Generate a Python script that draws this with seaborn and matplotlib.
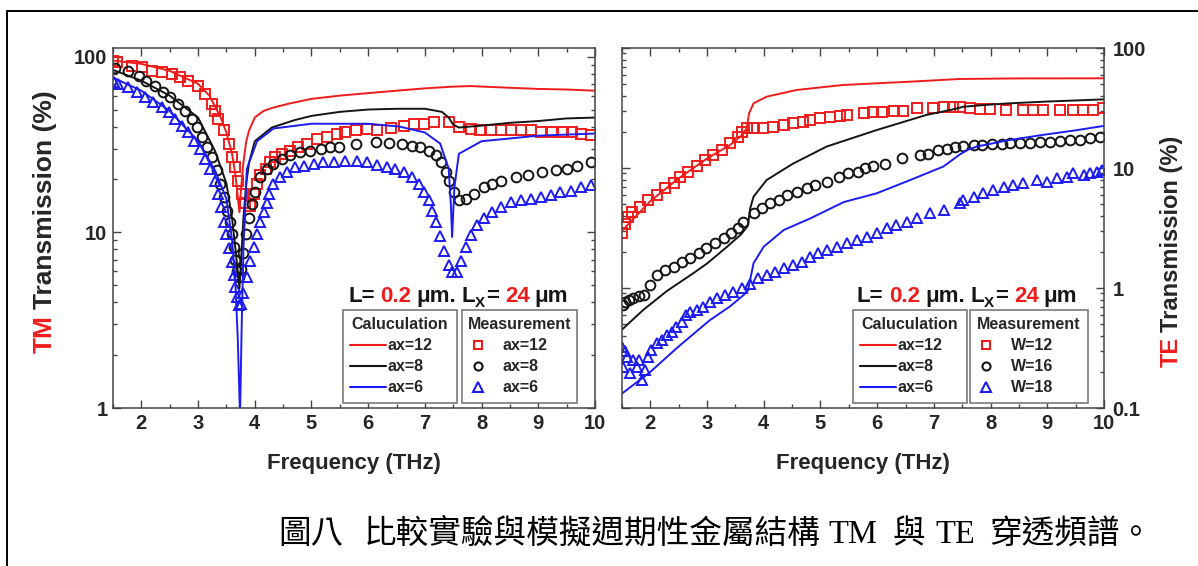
import matplotlib
matplotlib.use("Agg")
import matplotlib.pyplot as plt
import seaborn as sns
import numpy as np
from matplotlib.lines import Line2D
from matplotlib.ticker import MultipleLocator, LogLocator, NullFormatter

W, H = 1198, 566

# ---------------- data : TM (left panel) ----------------
tm_calc12_f = [1.5, 2.0, 2.5, 3.0, 3.2, 3.4, 3.5, 3.6, 3.66, 3.7, 3.73, 3.76, 3.8, 3.85, 3.9,
               4.0, 4.15, 4.3, 4.6, 5.0, 5.5, 6.0, 6.5, 7.0, 7.5, 7.8, 8.5, 9.0, 9.5, 10.0]
tm_calc12 = [95, 91, 83, 70, 60, 45, 37, 28, 21, 16, 13, 18, 25, 33, 38,
             45, 49, 51, 54, 57.5, 60, 62, 64, 66, 67.5, 68, 66.5, 65.5, 65, 64]

tm_calc8_f = [1.5, 2.0, 2.5, 3.0, 3.3, 3.5, 3.6, 3.66, 3.7, 3.73, 3.76, 3.8, 3.85, 3.9, 4.0,
              4.3, 4.7, 5.0, 5.5, 6.0, 6.5, 7.0, 7.3, 7.42, 7.5, 7.6, 8.0, 8.5, 9.0, 9.5, 10.0]
tm_calc8 = [84, 73, 60, 45, 29, 19, 12, 8, 6, 4.8, 7, 12, 19, 25, 33,
            39.5, 43.5, 46, 48.5, 50, 50.5, 50.5, 48.5, 45, 41, 39.5, 40.5, 42, 43, 44.5, 45]

tm_calc6_f = [1.5, 2.0, 2.5, 3.0, 3.3, 3.5, 3.6, 3.66, 3.7, 3.74, 3.77, 3.8, 3.86, 4.04, 4.33,
              5.0, 6.0, 6.55, 7.0, 7.27, 7.42, 7.46, 7.48, 7.52, 7.6, 8.0, 9.0, 10.0]
tm_calc6 = [76, 64, 49, 33, 22.5, 15.5, 9, 5, 2.5, 0.9, 3, 8, 23, 33, 39,
            41.5, 41.5, 40, 37, 32, 23, 14, 9.4, 18, 28, 33, 35.5, 36.5]

tm_meas12_f = [1.50, 1.57, 1.83, 2.01, 2.18, 2.36, 2.54, 2.68, 2.83, 3.00, 3.12, 3.24, 3.30, 3.36,
               3.45, 3.54, 3.60, 3.66, 3.71, 3.77, 3.83, 3.92, 3.98, 4.04, 4.10, 4.19, 4.27, 4.36,
               4.48, 4.63, 4.77, 4.92, 5.10, 5.27, 5.45, 5.60, 5.78, 5.98, 6.16, 6.40, 6.63, 6.81,
               6.98, 7.16, 7.43, 7.60, 7.81, 7.98, 8.16, 8.34, 8.51, 8.69, 8.87, 9.04, 9.25, 9.43,
               9.60, 9.75, 9.93]
tm_meas12 = [94, 92.8, 88.9, 86.9, 83.3, 81.4, 79.7, 76.3, 73.1, 68.4, 61.4, 53.8, 49.3, 44.3,
             38.0, 31.9, 26.8, 23.5, 19.7, 16.6, 14.6, 14.2, 16.6, 18.9, 21.1, 23.0, 25.1, 26.8,
             28.0, 29.2, 30.5, 31.9, 34.1, 34.8, 36.4, 37.2, 38.0, 38.8, 38.0, 39.3, 40.5, 41.4,
             41.4, 42.4, 42.4, 39.7, 38.8, 38.0, 38.0, 38.3, 38.0, 38.0, 38.0, 37.2, 37.2, 37.2,
             37.2, 36.4, 35.6]

tm_meas8_f = [1.53, 1.77, 1.95, 2.09, 2.24, 2.39, 2.51, 2.65, 2.77, 2.89, 2.98, 3.07, 3.16, 3.24,
              3.33, 3.39, 3.45, 3.51, 3.56, 3.60, 3.63, 3.66, 3.69, 3.72, 3.76, 3.80, 3.85, 3.90,
              3.95, 4.00, 4.09, 4.21, 4.33, 4.48, 4.63, 4.80, 4.98, 5.16, 5.33, 5.48, 5.78, 6.13,
              6.37, 6.60, 6.78, 6.92, 7.07, 7.19, 7.28, 7.37, 7.43, 7.51, 7.60, 7.72, 7.87, 8.04,
              8.19, 8.34, 8.60, 8.81, 9.07, 9.31, 9.51, 9.69, 9.93]
tm_meas8 = [86, 83.3, 78, 73.1, 68.4, 62.7, 58.7, 53.8, 49.3, 44.3, 39.7, 34.8, 30.5, 26.8,
            22.5, 18.9, 15.9, 13.3, 11.5, 9.8, 8.3, 7.0, 6.0, 5.6, 6.2, 7.6, 9.8, 12.0,
            14.5, 17.0, 20.6, 23.0, 24.6, 26.2, 27.4, 28.6, 29.2, 29.9, 30.5, 30.5, 31.9, 32.6,
            32.2, 31.9, 31.2, 30.5, 29.2, 27.4, 25.1, 22.0, 19.7, 16.9, 15.3, 15.5, 16.6, 18.1,
            18.9, 19.7, 20.6, 21.1, 22.0, 22.5, 23.0, 24.0, 25.1]

tm_meas6_f = [1.52, 1.59, 1.77, 1.92, 2.07, 2.21, 2.36, 2.48, 2.59, 2.71, 2.83, 2.92, 3.04, 3.13,
              3.21, 3.30, 3.36, 3.40, 3.45, 3.50, 3.55, 3.59, 3.63, 3.66, 3.69, 3.72, 3.76, 3.80,
              3.86, 3.92, 3.98, 4.04, 4.10, 4.16, 4.21, 4.25, 4.33, 4.45, 4.57, 4.71, 4.86, 5.04,
              5.21, 5.39, 5.60, 5.80, 5.98, 6.16, 6.33, 6.48, 6.63, 6.78, 6.89, 6.98, 7.07, 7.13,
              7.20, 7.27, 7.34, 7.42, 7.48, 7.57, 7.63, 7.72, 7.81, 7.92, 8.04, 8.19, 8.34, 8.51,
              8.69, 8.87, 9.04, 9.22, 9.39, 9.57, 9.75, 9.93]
tm_meas6 = [72, 70, 66.9, 62.7, 58.7, 55, 51.5, 48.3, 44.3, 40.5, 37.2, 33.3, 29.9, 26.2,
            23, 19.7, 16.6, 13.9, 11.5, 9.8, 8.1, 6.8, 5.7, 4.9, 4.3, 3.85, 3.9, 4.5,
            5.6, 6.9, 8.3, 9.8, 11.5, 13.1, 14.6, 16.6, 18.9, 20.6, 22, 23.5, 24, 24.6,
            25.1, 25.1, 25.4, 25.4, 25.1, 24.3, 23.5, 23, 22, 20.6, 18.9, 16.9, 15.2, 13.3,
            11.5, 9.5, 7.8, 6.5, 5.95, 5.95, 6.9, 8.3, 9.6, 11, 12, 13.1, 13.9, 14.9,
            15.2, 15.5, 15.9, 16.4, 16.9, 17.3, 18.1, 18.5]

# ---------------- data : TE (right panel) ----------------
te_calc12_f = [1.5, 2.0, 2.5, 3.0, 3.4, 3.6, 3.70, 3.74, 3.82, 4.05, 4.58, 5.40, 6.58, 7.46, 8.5, 9.99]
te_calc12 = [3.0, 5.3, 8.2, 12.0, 15.5, 18.5, 21.5, 28.5, 34.6, 39.3, 44.7, 49.2, 52.4, 55.2, 55.8, 55.9]

te_calc8_f = [1.5, 1.88, 2.3, 2.76, 3.0, 3.35, 3.6, 3.72, 3.76, 3.82, 4.05, 4.52, 5.11, 5.99,
              6.87, 7.3, 7.52, 8.0, 8.34, 9.0, 9.99]
te_calc8 = [0.45, 0.66, 0.95, 1.33, 1.6, 2.2, 2.8, 3.3, 4.6, 5.77, 7.94, 10.9, 15.1, 20.7,
            27.7, 30.5, 32.4, 33.8, 34.6, 35.8, 37.3]

te_calc6_f = [1.5, 2.0, 2.48, 3.05, 3.4, 3.64, 3.72, 3.76, 3.82, 4.0, 4.35, 4.82, 5.41, 5.99,
              6.6, 7.17, 7.46, 7.6, 7.76, 8.3, 8.93, 9.5, 9.99]
te_calc6 = [0.132, 0.2, 0.32, 0.54, 0.7, 0.87, 0.95, 1.17, 1.61, 2.21, 3.04, 3.8, 5.2, 6.15,
            8.0, 10.3, 13.0, 14.2, 15.1, 17, 18.9, 20.6, 22.4]

te_meas12_f = [1.50, 1.55, 1.60, 1.67, 1.82, 1.96, 2.11, 2.26, 2.41, 2.52, 2.67, 2.82, 2.96, 3.11,
               3.26, 3.40, 3.55, 3.61, 3.70, 3.82, 3.99, 4.17, 4.35, 4.52, 4.70, 4.82, 5.00, 5.17,
               5.35, 5.46, 5.76, 5.93, 6.08, 6.29, 6.46, 6.70, 6.99, 7.17, 7.34, 7.46, 7.64, 7.81,
               7.99, 8.28, 8.58, 8.75, 8.93, 9.22, 9.46, 9.63, 9.81, 9.99]
te_meas12 = [2.9, 3.4, 3.9, 4.33, 4.76, 5.41, 5.96, 6.77, 7.45, 8.47, 9.31, 10.3, 11.7, 12.8,
             14.1, 16.1, 18.2, 20.1, 21.4, 21.4, 21.4, 21.8, 22.8, 23.6, 24.3, 25.1, 25.9, 26.8,
             27.1, 27.7, 28.9, 29.5, 29.5, 30.1, 30.1, 31.4, 31.4, 32.0, 32.4, 32.4, 31.4, 30.8,
             30.8, 30.4, 30.4, 30.4, 30.4, 30.4, 30.4, 30.4, 30.4, 31.4]

te_meas16_f = [1.52, 1.55, 1.62, 1.70, 1.80, 1.88, 2.00, 2.11, 2.26, 2.41, 2.55, 2.70, 2.85, 2.99,
               3.14, 3.29, 3.43, 3.55, 3.64, 3.82, 3.97, 4.11, 4.26, 4.41, 4.58, 4.76, 4.90, 5.11,
               5.32, 5.49, 5.67, 5.79, 5.93, 6.14, 6.43, 6.76, 6.90, 7.08, 7.23, 7.37, 7.52, 7.70,
               7.84, 8.02, 8.20, 8.35, 8.52, 8.70, 8.88, 9.05, 9.23, 9.40, 9.58, 9.76, 9.93]
te_meas16 = [0.72, 0.77, 0.80, 0.82, 0.85, 0.87, 1.05, 1.28, 1.41, 1.51, 1.66, 1.77, 1.95, 2.14,
             2.36, 2.59, 2.86, 3.14, 3.57, 4.19, 4.6, 5.08, 5.41, 5.96, 6.35, 6.77, 7.2, 7.67,
             8.47, 9.04, 9.31, 9.94, 10.3, 10.7, 12.1, 12.8, 13.2, 14.1, 14.5, 15.1, 15.3, 15.6,
             15.6, 15.9, 15.9, 16.1, 16.1, 16.2, 16.5, 16.5, 16.9, 17.1, 17.1, 17.7, 18.2]

te_meas18_f = [1.50, 1.52, 1.55, 1.58, 1.64, 1.70, 1.76, 1.80, 1.85, 1.90, 1.96, 2.02, 2.11, 2.20,
               2.29, 2.38, 2.46, 2.55, 2.62, 2.70, 2.82, 2.93, 3.05, 3.17, 3.32, 3.46, 3.61, 3.76,
               3.90, 4.05, 4.20, 4.35, 4.52, 4.67, 4.82, 4.96, 5.11, 5.29, 5.46, 5.64, 5.82, 5.99,
               6.17, 6.34, 6.52, 6.70, 6.93, 7.17, 7.46, 7.52, 7.70, 7.87, 8.05, 8.23, 8.40, 8.58,
               8.81, 8.99, 9.17, 9.34, 9.46, 9.64, 9.76, 9.88, 9.97]
te_meas18 = [0.324, 0.221, 0.30, 0.268, 0.195, 0.251, 0.221, 0.25, 0.171, 0.207, 0.268, 0.304,
             0.346, 0.368, 0.406, 0.432, 0.476, 0.524, 0.6, 0.634, 0.656, 0.699, 0.769, 0.82,
             0.874, 0.932, 0.994, 1.09, 1.2, 1.28, 1.37, 1.46, 1.55, 1.66, 1.82, 1.95, 2.07,
             2.21, 2.36, 2.51, 2.68, 2.86, 3.14, 3.35, 3.57, 3.81, 4.19, 4.47, 5.08, 5.41, 5.77,
             6.15, 6.56, 7.0, 7.2, 7.45, 7.94, 7.67, 8.2, 8.47, 9.04, 8.7, 9.04, 9.31, 9.6]

calc_labels = ["ax=12", "ax=8", "ax=6"]
tm_meas_labels = ["ax=12", "ax=8", "ax=6"]
te_meas_labels = ["W=12", "W=16", "W=18"]
x_ticks = [2, 3, 4, 5, 6, 7, 8, 9, 10]
tm_yticks = [1, 10, 100]
te_yticks = [0.1, 1, 10, 100]
caption_parts = ["圖八", "比較實驗與模擬週期性金屬結構", "TM", "與", "TE", "穿透頻譜。"]

# ---------------- style ----------------
sns.set_style("ticks")
plt.rcParams["font.family"] = ["Liberation Sans", "DejaVu Sans"]
plt.rcParams["font.weight"] = "bold"

RED = "#f01c1c"
BLACK = "#151515"
BLUE = "#1c1cf2"
TXT = "#262626"
GRID = "#444444"

fig = plt.figure(figsize=(W / 100, H / 100), dpi=100)
fig.patch.set_facecolor("white")
axL = fig.add_axes([113 / W, 1 - 408 / H, 482 / W, 360 / H])
axR = fig.add_axes([622 / W, 1 - 408 / H, 482 / W, 360 / H])


def draw_line(ax, x, y, c):
    sns.lineplot(x=x, y=y, ax=ax, color=c, linewidth=1.4, estimator=None,
                 sort=False, legend=False)


def draw_pts(ax, x, y, c, m, ms):
    sns.lineplot(x=x, y=y, ax=ax, color=c, linestyle="none", marker=m,
                 markersize=ms, markerfacecolor="none", markeredgecolor=c,
                 markeredgewidth=1.4, estimator=None, sort=False, legend=False)


for ax in (axL, axR):
    ax.set_yscale("log")

draw_pts(axL, tm_meas12_f, tm_meas12, RED, "s", 6.6)
draw_pts(axL, tm_meas8_f, tm_meas8, BLACK, "o", 7.0)
draw_pts(axL, tm_meas6_f, tm_meas6, BLUE, "^", 7.8)
draw_line(axL, tm_calc12_f, tm_calc12, RED)
draw_line(axL, tm_calc8_f, tm_calc8, BLACK)
draw_line(axL, tm_calc6_f, tm_calc6, BLUE)

draw_pts(axR, te_meas12_f, te_meas12, RED, "s", 6.6)
draw_pts(axR, te_meas16_f, te_meas16, BLACK, "o", 7.0)
draw_pts(axR, te_meas18_f, te_meas18, BLUE, "^", 7.8)
draw_line(axR, te_calc12_f, te_calc12, RED)
draw_line(axR, te_calc8_f, te_calc8, BLACK)
draw_line(axR, te_calc6_f, te_calc6, BLUE)

for ax in (axL, axR):
    ax.set_xlim(1.5, 10)
    ax.set_xticks(x_ticks, labels=[str(v) for v in x_ticks])
    ax.xaxis.set_minor_locator(MultipleLocator(0.5))
    ax.yaxis.set_minor_locator(LogLocator(base=10, subs=np.arange(2, 10)))
    ax.yaxis.set_minor_formatter(NullFormatter())
    ax.tick_params(which="both", direction="in", top=True, right=True,
                   color=GRID, labelcolor=TXT, labelsize=14.5, width=1.0)
    ax.tick_params(which="major", length=6, pad=4)
    ax.tick_params(which="minor", length=3.2)
    ax.set_xlabel("")
    ax.set_ylabel("")
    for s in ax.spines.values():
        s.set_color(GRID)
        s.set_linewidth(1.1)

axL.set_ylim(1, 112)
axL.set_yticks(tm_yticks, labels=[str(v) for v in tm_yticks])
axR.set_ylim(0.1, 100)
axR.set_yticks(te_yticks, labels=["0.1", "1", "10", "100"])
axR.tick_params(axis="y", which="both", labelleft=False, labelright=True, pad=6)
for ax in (axL, axR):
    for lab in ax.get_xticklabels() + ax.get_yticklabels():
        lab.set_fontweight("bold")


def legend_pair(ax, meas_labels, calc_box, meas_box):
    top, bottom = 310, 403
    common = dict(loc="upper left", bbox_transform=fig.transFigure, mode="expand",
                  frameon=True, fancybox=False, framealpha=1, edgecolor="#7a7a7a",
                  prop=dict(weight="bold", size=11.5),
                  title_fontproperties=dict(weight="bold", size=11.5),
                  labelcolor=TXT, borderaxespad=0, borderpad=0.45, labelspacing=0.38)
    calc_h = [Line2D([], [], color=c, lw=1.5) for c in (RED, BLACK, BLUE)]
    l1 = ax.legend(calc_h, calc_labels, title="Caluculation",
                   bbox_to_anchor=(calc_box[0] / W, 1 - bottom / H,
                                   (calc_box[1] - calc_box[0]) / W, (bottom - top) / H),
                   handlelength=2.25, handletextpad=0.1, **common)
    l1.get_title().set_color(TXT)
    l1.get_frame().set_linewidth(1.2)
    ax.add_artist(l1)
    meas_h = [Line2D([], [], ls="none", marker=m, ms=s, mfc="none", mec=c, mew=1.5)
              for m, c, s in (("s", RED, 5.5), ("o", BLACK, 5.8), ("^", BLUE, 6.5))]
    l2 = ax.legend(meas_h, meas_labels, title="Measurement",
                   bbox_to_anchor=(meas_box[0] / W, 1 - bottom / H,
                                   (meas_box[1] - meas_box[0]) / W, (bottom - top) / H),
                   handlelength=1.1, handletextpad=1.0, **common)
    l2.get_title().set_color(TXT)
    l2.get_frame().set_linewidth(1.2)


legend_pair(axL, tm_meas_labels, (343, 457), (462, 577))
legend_pair(axR, te_meas_labels, (853, 967), (970, 1088))

renderer = fig.canvas.get_renderer()


def rich_row(x_px, base_px, parts, weight="bold", family=None):
    x = x_px
    for s, col, size, dy, gap in parts:
        kw = dict(color=col, fontsize=size, fontweight=weight, ha="left", va="baseline")
        if family is not None:
            kw["family"] = family
        t = fig.text(x / W, 1 - (base_px + dy) / H, s, **kw)
        bb = t.get_window_extent(renderer)
        x = bb.x1 + gap


def param_text(x_px):
    rich_row(x_px, 302, [("L=", BLACK, 16, 0, 6), ("0.2", RED, 16, 0, 5),
                         ("μm.", BLACK, 16, 0, 5), ("L", BLACK, 16, 0, 0),
                         ("X", BLACK, 11, 5, 1), ("=", BLACK, 16, 0, 6),
                         ("24", RED, 16, 0, 5), ("μm", BLACK, 16, 0, 0)])


param_text(348)
param_text(857)


def vlabel(x_base, y_bottom, size, parts):
    y = y_bottom
    for s, col, gap in parts:
        t = fig.text(x_base / W, 1 - y / H, s, rotation=90, rotation_mode="anchor",
                     ha="left", va="baseline", color=col, fontsize=size, fontweight="bold")
        bb = t.get_window_extent(renderer)
        y = y - bb.height - gap


vlabel(52, 353, 19, [("TM", RED, 6), ("Transmission (%)", TXT, 0)])
vlabel(1178, 367, 17, [("TE", RED, 5), ("Transmission (%)", TXT, 0)])

for ax in (axL, axR):
    pos = ax.get_position()
    fig.text((pos.x0 + pos.x1) / 2, 1 - 463 / H, "Frequency (THz)", ha="center",
             va="center", fontsize=16, fontweight="bold", color=TXT)

# caption, pieces chained with the gaps seen in the reference
cap_gaps = [20, 8, 16, 10, 14, 0]
rich_row(278, 543, [(s, "black", 23.5, 0, g) for s, g in zip(caption_parts, cap_gaps)],
         weight="normal", family=["Liberation Serif", "Noto Sans CJK TC"])

# outer frame (top and left edges visible in the reference)
fig.add_artist(Line2D([7 / W, 7 / W], [1 - 11 / H, 0], color="black", lw=1.4,
                      transform=fig.transFigure))
fig.add_artist(Line2D([7 / W, 1], [1 - 11 / H, 1 - 11 / H], color="black", lw=1.4,
                      transform=fig.transFigure))

fig.savefig("out.png", dpi=100, facecolor="white")
